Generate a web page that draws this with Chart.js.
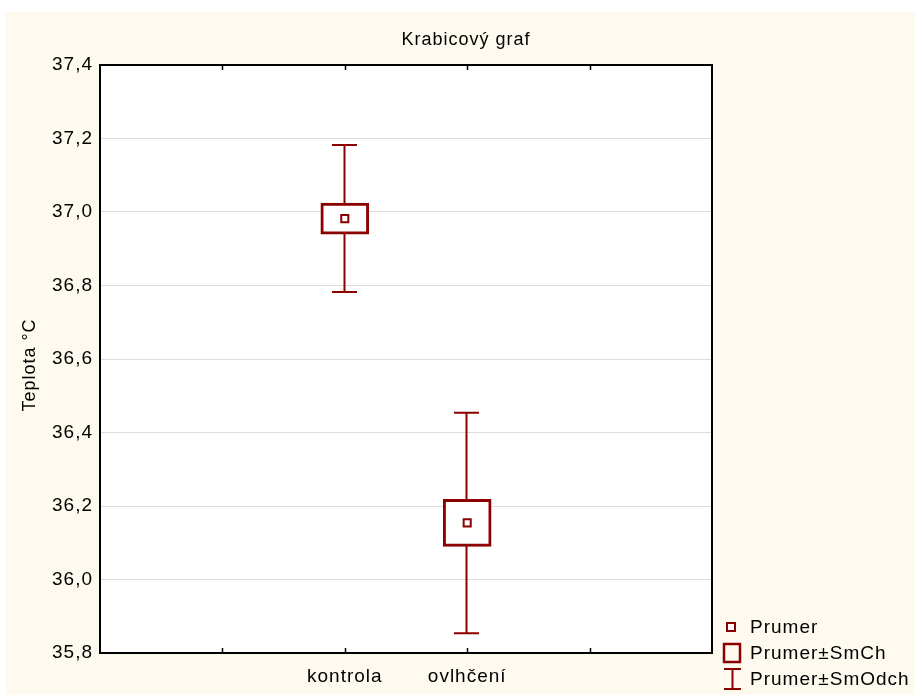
<!DOCTYPE html>
<html>
<head>
<meta charset="utf-8">
<script src="https://cdn.jsdelivr.net/npm/chart.js@4.4.1/dist/chart.umd.min.js"></script>
<style>
  html, body { margin: 0; padding: 0; background: #ffffff; }
  canvas { display: block; }
</style>
</head>
<body>
<canvas id="chart" width="915" height="695"></canvas>
<script>
// Category slots along the x axis (groups sit on the 2nd and 3rd inner ticks)
const axisLabels = ['', '', 'kontrola', 'ovlhčení', '', ''];
// Mean temperature per group (°C)
const means = [null, null, 36.982, 36.154, null, null];
// Standard error of the mean
const stdErr = [null, null, 0.042, 0.064, null, null];
// Standard deviation
const stdDev = [null, null, 0.200, 0.300, null, null];
// Y axis range and step
const yMin = 35.8, yMax = 37.4, yStep = 0.2;

const chartTitle = 'Krabicový graf';
const yTitle = 'Teplota °C';
const legendLabels = ['Prumer', 'Prumer±SmCh', 'Prumer±SmOdch'];

const RED = '#8b0000';
const CREAM = '#fefaf0';
const FONT = '"Liberation Sans", Arial, sans-serif';
const SPACING = '1px';

const boxRanges = means.map((m, i) => m == null ? null : [m - stdErr[i], m + stdErr[i]]);

const decor = {
  id: 'decor',
  beforeDraw(chart) {
    const { ctx, chartArea: a, width, height } = chart;
    ctx.save();
    ctx.fillStyle = '#ffffff';
    ctx.fillRect(0, 0, width, height);
    ctx.fillStyle = CREAM;
    ctx.fillRect(5, 12, width - 5, height - 12);
    ctx.fillStyle = '#ffffff';
    ctx.fillRect(a.left, a.top, a.right - a.left, a.bottom - a.top);
    ctx.restore();
    // slightly open lettering for all axis text
    ctx.letterSpacing = SPACING;
  },
  beforeDatasetsDraw(chart) {
    // whiskers: mean ± standard deviation
    const { ctx, scales: { x, y } } = chart;
    ctx.save();
    ctx.strokeStyle = RED;
    ctx.lineWidth = 2;
    means.forEach((m, i) => {
      if (m == null) return;
      const px = Math.round(x.getPixelForValue(i)) - 0.5;
      const top = y.getPixelForValue(m + stdDev[i]);
      const bot = y.getPixelForValue(m - stdDev[i]);
      ctx.beginPath();
      ctx.moveTo(px, top); ctx.lineTo(px, bot);
      ctx.moveTo(px - 12.5, top); ctx.lineTo(px + 12.5, top);
      ctx.moveTo(px - 12.5, bot); ctx.lineTo(px + 12.5, bot);
      ctx.stroke();
    });
    ctx.restore();
  },
  afterDraw(chart) {
    const { ctx, chartArea: a, scales: { x } } = chart;
    ctx.save();
    // plot frame
    ctx.strokeStyle = '#000';
    ctx.lineWidth = 2;
    ctx.strokeRect(a.left, a.top, a.right - a.left, a.bottom - a.top);
    // inward tick marks on top and bottom edges
    ctx.lineWidth = 1.5;
    for (let i = 1; i < axisLabels.length - 1; i++) {
      const px = Math.round(x.getPixelForValue(i)) + 0.5;
      ctx.beginPath();
      ctx.moveTo(px, a.top); ctx.lineTo(px, a.top + 5);
      ctx.moveTo(px, a.bottom); ctx.lineTo(px, a.bottom - 5);
      ctx.stroke();
    }
    ctx.letterSpacing = SPACING;
    ctx.fillStyle = '#000';
    ctx.textBaseline = 'middle';

    // y axis title
    ctx.save();
    ctx.font = '18px ' + FONT;
    ctx.textAlign = 'center';
    ctx.translate(30, 365);
    ctx.rotate(-Math.PI / 2);
    ctx.fillText(yTitle, 0, 0);
    ctx.restore();

    // chart title
    ctx.font = '18px ' + FONT;
    ctx.textAlign = 'center';
    ctx.fillText(chartTitle, 466, 40);

    // legend
    ctx.font = '19px ' + FONT;
    ctx.textAlign = 'left';
    const rows = [627, 653, 679];
    ctx.strokeStyle = RED;
    ctx.fillStyle = '#fff';
    // mean marker
    ctx.lineWidth = 2;
    ctx.fillRect(727, rows[0] - 4, 8, 8);
    ctx.strokeRect(727, rows[0] - 4, 8, 8);
    // SE box
    ctx.lineWidth = 2.5;
    ctx.strokeRect(724, 644, 16, 18);
    // SD whisker
    ctx.lineWidth = 2;
    ctx.beginPath();
    ctx.moveTo(724, 669); ctx.lineTo(741, 669);
    ctx.moveTo(732.5, 669); ctx.lineTo(732.5, 689);
    ctx.moveTo(724, 689); ctx.lineTo(741, 689);
    ctx.stroke();
    ctx.fillStyle = '#000';
    legendLabels.forEach((t, k) => ctx.fillText(t, 750, rows[k] + 1));
    ctx.restore();
  }
};

new Chart(document.getElementById('chart'), {
  type: 'bar',
  data: {
    labels: axisLabels,
    datasets: [
      {
        type: 'line',
        label: legendLabels[0],
        data: means,
        showLine: false,
        pointStyle: 'rect',
        pointRadius: 5,
        pointBorderWidth: 2,
        borderColor: RED,
        backgroundColor: '#ffffff',
        order: 0
      },
      {
        type: 'bar',
        label: legendLabels[1],
        data: boxRanges,
        backgroundColor: '#ffffff',
        borderColor: RED,
        borderWidth: 3,
        borderSkipped: false,
        barThickness: 48,
        order: 1
      }
    ]
  },
  options: {
    responsive: false,
    devicePixelRatio: 1,
    animation: false,
    layout: { padding: { left: 0, right: 203, top: 65, bottom: 0 } },
    plugins: {
      legend: { display: false },
      title: { display: false },
      tooltip: { enabled: false }
    },
    scales: {
      x: {
        type: 'category',
        offset: false,
        grid: { display: false, drawTicks: false },
        border: { display: false },
        ticks: {
          autoSkip: false,
          maxRotation: 0,
          padding: 12,
          color: '#000',
          font: { family: FONT, size: 19 }
        },
        afterFit(s) { s.height = 42; }
      },
      y: {
        min: yMin,
        max: yMax,
        grid: { color: '#dcdcdc', lineWidth: 1, drawTicks: false },
        border: { display: false },
        ticks: {
          stepSize: yStep,
          padding: 7,
          color: '#000',
          font: { family: FONT, size: 19 },
          callback: v => v.toFixed(1).replace('.', ',')
        },
        title: { display: false },
        afterFit(s) { s.width = 100; }
      }
    }
  },
  plugins: [decor]
});
</script>
</body>
</html>
